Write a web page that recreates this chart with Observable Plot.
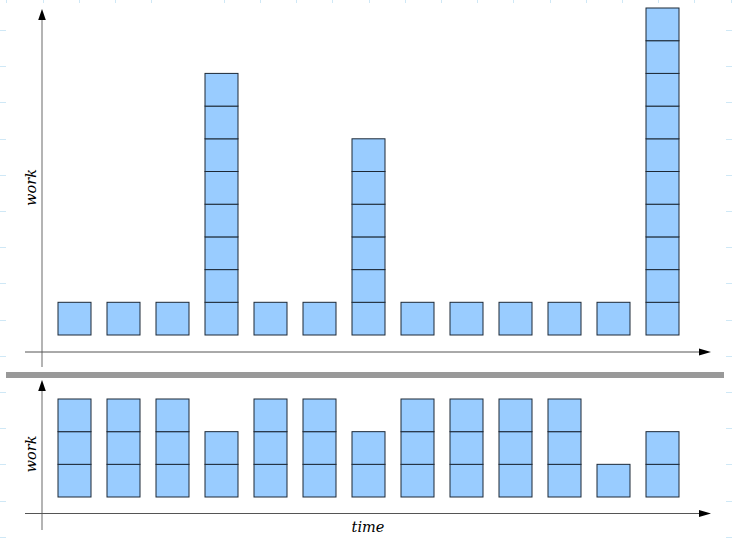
<!DOCTYPE html>
<html><head><meta charset="utf-8">
<script src="https://cdn.jsdelivr.net/npm/d3@7"></script>
<script src="https://cdn.jsdelivr.net/npm/@observablehq/plot@0.6"></script>
<style>
body{margin:0;background:#fff;}
#wrap{position:relative;width:732px;height:539px;overflow:hidden;
 background-image:
  repeating-linear-gradient(to bottom, transparent 0 30px, #cfe8f6 30px 31px, transparent 31px 36.2px),
  repeating-linear-gradient(to bottom, transparent 0 30px, #cfe8f6 30px 31px, transparent 31px 36.2px),
  repeating-linear-gradient(to right, transparent 0 6.5px, #cfe8f6 6.5px 7.5px, transparent 7.5px 36.2px);
 background-size:6px 100%, 6px 100%, 100% 3px;
 background-position:left top, right top, left top;
 background-repeat:no-repeat;}
#wrap svg{display:block;}
#sep{position:absolute;left:6px;top:372px;width:718px;height:6px;background:#999;}
#top{position:absolute;left:0;top:0;}
#bottom{position:absolute;left:0;top:377px;}
</style></head><body>
<div id="wrap"><div id="top"></div><div id="sep"></div><div id="bottom"></div></div>
<script>
const columns = ["1","2","3","4","5","6","7","8","9","10","11","12","13"];
const workPerStep = [1,1,1,8,1,1,6,1,1,1,1,1,10];
const workBalanced = [3,3,3,2,3,3,2,3,3,3,3,1,2];
const yLabel = "work";
const xLabel = "time";

function blocks(values) {
  const out = [];
  values.forEach((n, i) => { for (let k = 0; k < n; k++) out.push({col: columns[i], unit: 1}); });
  return out;
}

function axesMark(o) {
  return () => {
    const g = d3.create("svg:g");
    g.append("line").attr("x1", o.ax).attr("x2", o.ax).attr("y1", o.yTip + 4).attr("y2", o.yEnd)
      .attr("stroke", "#b4b4b4").attr("stroke-width", 2);
    g.append("path").attr("d", `M${o.ax},${o.yTip} L${o.ax - 3.8},${o.yTip + 11} L${o.ax + 3.8},${o.yTip + 11} Z`).attr("fill", "#000");
    g.append("line").attr("x1", o.xStart).attr("x2", o.xTip - 4).attr("y1", o.ay + 0.5).attr("y2", o.ay + 0.5)
      .attr("stroke", "#555").attr("stroke-width", 1);
    g.append("path").attr("d", `M${o.xTip},${o.ay + 0.5} L${o.xTip - 12},${o.ay - 3} L${o.xTip - 12},${o.ay + 4} Z`).attr("fill", "#000");
    g.append("text").attr("transform", `translate(${o.ax - 6.5},${o.labelY}) rotate(-90)`)
      .attr("text-anchor", "middle").attr("font-family", "DejaVu Serif").attr("font-style", "italic")
      .attr("font-size", 14.5).attr("fill", "#000").text(yLabel);
    if (o.xLabel) {
      g.append("text").attr("x", o.xLabelX).attr("y", o.xLabelY).attr("text-anchor", "middle")
        .attr("font-family", "DejaVu Serif").attr("font-style", "italic")
        .attr("font-size", 14.5).attr("fill", "#000").text(o.xLabel);
    }
    return g.node();
  };
}

function panel(values, h, yMax, yRange, ax) {
  return Plot.plot({
    width: 732, height: h, margin: 0,
    style: {background: "transparent", overflow: "visible"},
    x: {type: "band", domain: columns, range: [58, 679.5], paddingInner: 0.327, paddingOuter: 0, axis: null},
    y: {domain: [0, yMax], range: yRange, axis: null},
    marks: [
      Plot.barY(blocks(values), {x: "col", y: "unit", fill: "#99ccff", stroke: "#1c2836", strokeWidth: 1}),
      axesMark(ax)
    ]
  });
}

document.getElementById("top").append(
  panel(workPerStep, 372, 10, [335, 8], {ax: 42, yTip: 9, yEnd: 367, ay: 351.5, xStart: 25, xTip: 711, labelY: 187.5})
);
document.getElementById("bottom").append(
  panel(workBalanced, 162, 3, [120, 22], {ax: 42, yTip: 3, yEnd: 153, ay: 136, xStart: 25, xTip: 711, labelY: 77,
    xLabel: xLabel, xLabelX: 368, xLabelY: 155})
);
</script>
</body></html>
